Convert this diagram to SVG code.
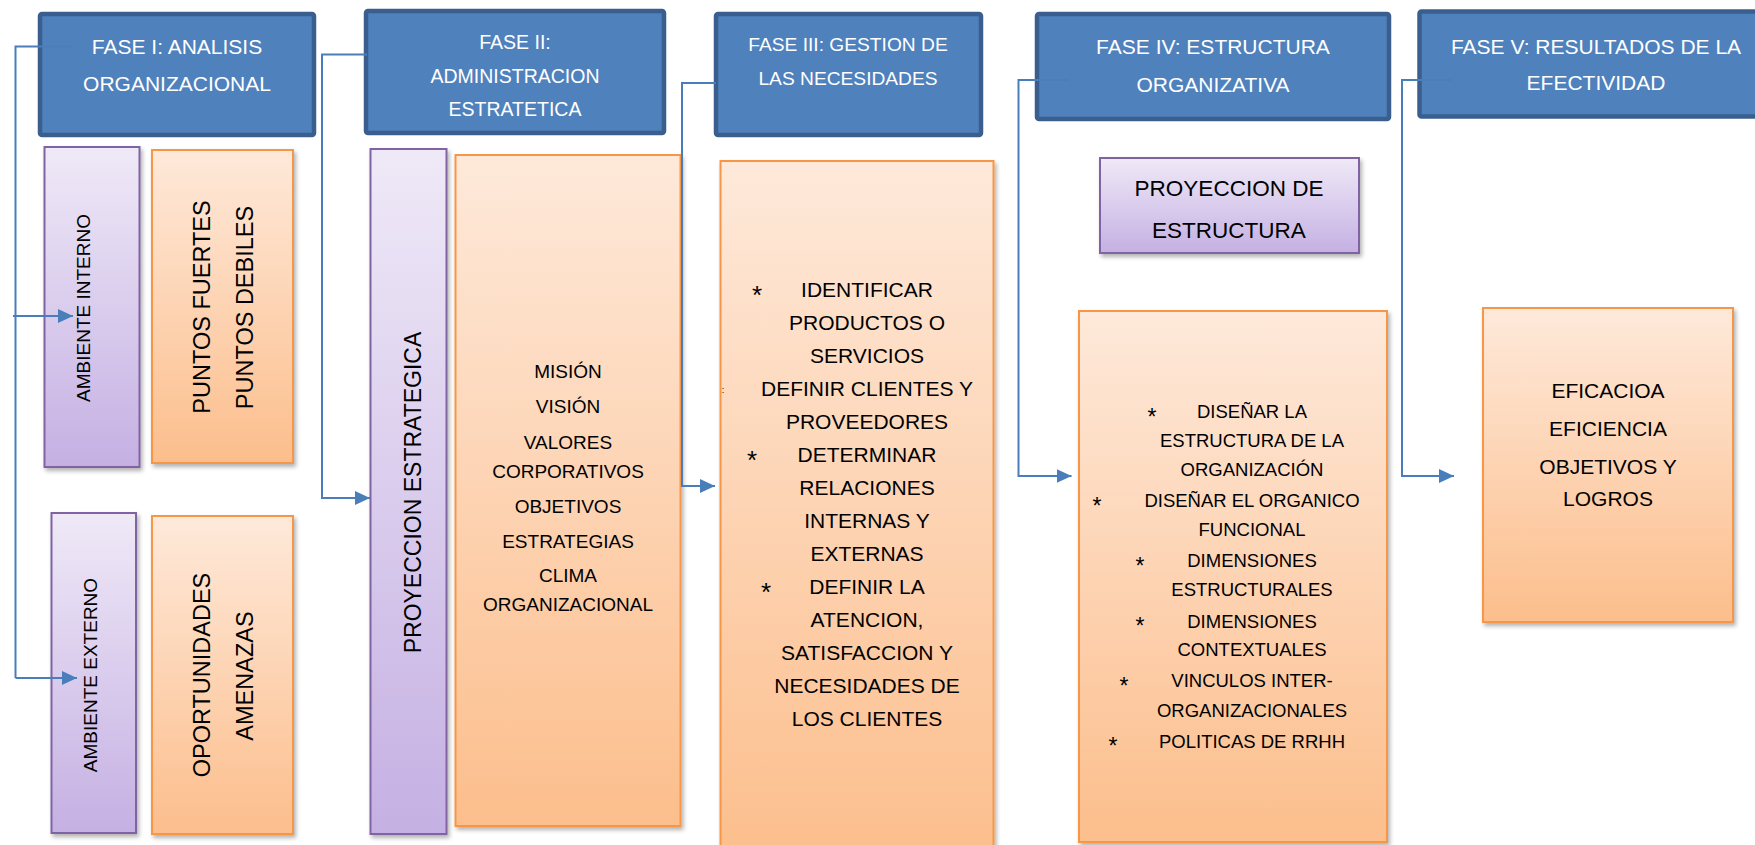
<svg xmlns="http://www.w3.org/2000/svg" width="1755" height="845" viewBox="0 0 1755 845">
<defs>
<linearGradient id="gO" x1="0" y1="0" x2="0" y2="1">
<stop offset="0" stop-color="#fee9da"/>
<stop offset="1" stop-color="#fcbe8c"/>
</linearGradient>
<linearGradient id="gP" x1="0" y1="0" x2="0" y2="1">
<stop offset="0" stop-color="#efe9f7"/>
<stop offset="1" stop-color="#c5b0e3"/>
</linearGradient>
<filter id="sh" x="-10%" y="-10%" width="130%" height="130%">
<feDropShadow dx="2" dy="3" stdDeviation="2" flood-color="#000" flood-opacity="0.3"/>
</filter>
<marker id="ah" viewBox="0 0 15 14" refX="15" refY="7" markerWidth="15" markerHeight="14" markerUnits="userSpaceOnUse" orient="auto">
<path d="M0,0 L15,7 L0,14 z" fill="#4a7ebb"/>
</marker>
</defs>
<style>
.hdr{fill:#4f81bd;stroke:#3a5f8e;stroke-width:4.5}
.ht{font-family:"Liberation Sans",Arial,sans-serif;fill:#fff;text-anchor:middle}
.pur{fill:url(#gP);stroke:#8064a2;stroke-width:2;filter:url(#sh)}
.org{fill:url(#gO);stroke:#f79646;stroke-width:2;filter:url(#sh)}
.t{font-family:"Liberation Sans",Arial,sans-serif;fill:#000;text-anchor:middle}
.cn{fill:none;stroke:#4a7ebb;stroke-width:2}
.ar{marker-end:url(#ah)}
</style>
<rect width="1755" height="845" fill="#fff"/>

<g id="fase1">
<rect class="hdr" x="40" y="14" width="274" height="121" rx="2"/>
<text class="ht" font-size="21" x="177" y="54">FASE I: ANALISIS</text>
<text class="ht" font-size="21" x="177" y="91">ORGANIZACIONAL</text>
</g>
<g id="fase2">
<rect class="hdr" x="366" y="11" width="298" height="122" rx="2"/>
<text class="ht" font-size="19.5" x="515" y="48.5">FASE II:</text>
<text class="ht" font-size="19.5" x="515" y="83">ADMINISTRACION</text>
<text class="ht" font-size="19.5" x="515" y="116">ESTRATETICA</text>
</g>
<g id="fase3">
<rect class="hdr" x="716" y="14" width="265" height="121" rx="2"/>
<text class="ht" font-size="19.2" x="848" y="51">FASE III: GESTION DE</text>
<text class="ht" font-size="19.2" x="848" y="85">LAS NECESIDADES</text>
</g>
<g id="fase4">
<rect class="hdr" x="1037" y="14" width="352" height="105" rx="2"/>
<text class="ht" font-size="21" x="1213" y="54">FASE IV: ESTRUCTURA</text>
<text class="ht" font-size="21" x="1213" y="91.5">ORGANIZATIVA</text>
</g>
<g id="fase5">
<rect class="hdr" x="1419.5" y="11.5" width="352" height="105" rx="2"/>
<text class="ht" font-size="21" x="1596" y="53.5">FASE V: RESULTADOS DE LA</text>
<text class="ht" font-size="21" x="1596" y="89.5">EFECTIVIDAD</text>
</g>

<g id="ambiente-interno">
<rect class="pur" x="44.5" y="147" width="95" height="320"/>
<text class="t" font-size="19" transform="translate(90,308) rotate(-90)">AMBIENTE INTERNO</text>
</g>
<g id="puntos">
<rect class="org" x="152" y="150" width="141" height="313"/>
<text class="t" font-size="23.5" transform="translate(210,307) rotate(-90)">PUNTOS FUERTES</text>
<text class="t" font-size="23.5" transform="translate(253,307.5) rotate(-90)">PUNTOS DEBILES</text>
</g>
<g id="ambiente-externo">
<rect class="pur" x="51.5" y="513" width="84.5" height="320"/>
<text class="t" font-size="19" transform="translate(96.5,675) rotate(-90)">AMBIENTE EXTERNO</text>
</g>
<g id="oportunidades">
<rect class="org" x="152" y="516" width="141" height="318"/>
<text class="t" font-size="23.5" transform="translate(210,675) rotate(-90)">OPORTUNIDADES</text>
<text class="t" font-size="23.5" transform="translate(253,676) rotate(-90)">AMENAZAS</text>
</g>

<g id="proyeccion-estrategica">
<rect class="pur" x="370.5" y="149" width="76" height="685"/>
<text class="t" font-size="23" transform="translate(420.5,492.5) rotate(-90)">PROYECCION ESTRATEGICA</text>
</g>
<g id="mision">
<rect class="org" x="455.5" y="155" width="225" height="671"/>
<g class="t" font-size="19">
<text x="568" y="378">MISIÓN</text>
<text x="568" y="413">VISIÓN</text>
<text x="568" y="448.5">VALORES</text>
<text x="568" y="477.5">CORPORATIVOS</text>
<text x="568" y="513">OBJETIVOS</text>
<text x="568" y="547.5">ESTRATEGIAS</text>
<text x="568" y="582">CLIMA</text>
<text x="568" y="611">ORGANIZACIONAL</text>
</g>
</g>

<g id="necesidades">
<rect class="org" x="720.5" y="161" width="273" height="700"/>
<g class="t" font-size="21">
<text x="757" y="304" font-size="26">*</text>
<text x="867" y="297">IDENTIFICAR</text>
<text x="867" y="330">PRODUCTOS O</text>
<text x="867" y="363">SERVICIOS</text>
<text x="723" y="393" font-size="9">:</text>
<text x="867" y="396">DEFINIR CLIENTES Y</text>
<text x="867" y="429">PROVEEDORES</text>
<text x="752" y="469" font-size="26">*</text>
<text x="867" y="462">DETERMINAR</text>
<text x="867" y="495">RELACIONES</text>
<text x="867" y="528">INTERNAS Y</text>
<text x="867" y="561">EXTERNAS</text>
<text x="766" y="601" font-size="26">*</text>
<text x="867" y="594">DEFINIR LA</text>
<text x="867" y="627">ATENCION,</text>
<text x="867" y="660">SATISFACCION Y</text>
<text x="867" y="693">NECESIDADES DE</text>
<text x="867" y="726">LOS CLIENTES</text>
</g>
</g>

<g id="proyeccion-estructura">
<rect class="pur" x="1100" y="158" width="259" height="95"/>
<text class="t" font-size="22.5" x="1229" y="196">PROYECCION DE</text>
<text class="t" font-size="22.5" x="1229" y="238">ESTRUCTURA</text>
</g>
<g id="estructura">
<rect class="org" x="1079" y="311" width="308" height="531"/>
<g class="t" font-size="18.5">
<text x="1152" y="424.5" font-size="23">*</text>
<text x="1252" y="418.3">DISEÑAR LA</text>
<text x="1252" y="447.3">ESTRUCTURA DE LA</text>
<text x="1252" y="476">ORGANIZACIÓN</text>
<text x="1097" y="513.5" font-size="23">*</text>
<text x="1252" y="507.3">DISEÑAR EL ORGANICO</text>
<text x="1252" y="535.6">FUNCIONAL</text>
<text x="1140" y="573.5" font-size="23">*</text>
<text x="1252" y="567.3">DIMENSIONES</text>
<text x="1252" y="596">ESTRUCTURALES</text>
<text x="1140" y="633.8" font-size="23">*</text>
<text x="1252" y="627.6">DIMENSIONES</text>
<text x="1252" y="656">CONTEXTUALES</text>
<text x="1124" y="693.5" font-size="23">*</text>
<text x="1252" y="687.3">VINCULOS INTER-</text>
<text x="1252" y="716.6">ORGANIZACIONALES</text>
<text x="1113" y="753.8" font-size="23">*</text>
<text x="1252" y="747.6">POLITICAS DE RRHH</text>
</g>
</g>
<g id="resultados">
<rect class="org" x="1483" y="308" width="250" height="314"/>
<g class="t" font-size="21">
<text x="1608" y="397.5">EFICACIOA</text>
<text x="1608" y="436">EFICIENCIA</text>
<text x="1608" y="474">OBJETIVOS Y</text>
<text x="1608" y="506">LOGROS</text>
</g>
</g>

<g id="connectors">
<path class="cn" d="M73,46.5 H15.5 V678"/>
<path class="cn ar" d="M13,316 H73"/>
<path class="cn ar" d="M15.5,678 H77"/>
<path class="cn ar" d="M367,54.5 H322 V498 H370"/>
<path class="cn ar" d="M716,83 H682 V486 H715"/>
<path class="cn ar" d="M1069,80 H1018.5 V476 H1071.5"/>
<path class="cn ar" d="M1451,80 H1402 V476 H1454"/>
</g>
</svg>
